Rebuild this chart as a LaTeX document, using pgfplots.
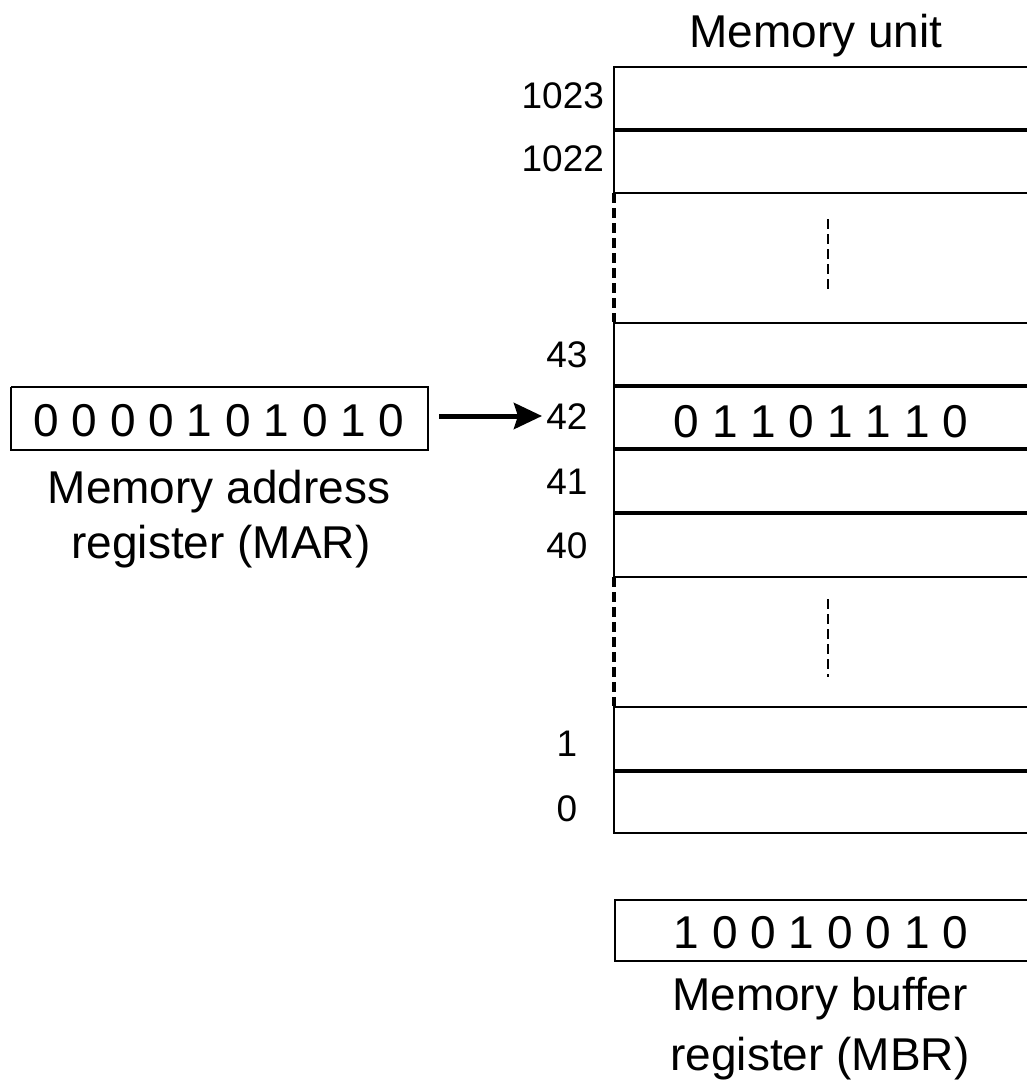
\documentclass[border=0pt]{standalone}
\usepackage{fontspec}
\setmainfont{Liberation Sans}
\usepackage{pgfplots}
\pgfplotsset{compat=1.18}
\usetikzlibrary{arrows.meta}

% picture coordinates are the reference's pixels, y measured downwards
\newcommand{\bigtxt}{\fontsize{23}{27}\selectfont}
\newcommand{\smalltxt}{\fontsize{18.5}{22}\selectfont}

\begin{document}
\begin{tikzpicture}
\begin{axis}[
    width=513.5pt, height=544pt, scale only axis,
    xmin=0, xmax=1027, ymin=0, ymax=1088,
    y dir=reverse,
    hide axis,
    clip=true,
    cell/.style={black, line width=1pt, no marks},
    gapline/.style={black, no marks, dash pattern=on 5pt off 2.5pt},
    every node/.style={inner sep=0pt},
]
% memory cells (top, bottom); right side runs off the picture
\addplot[cell] coordinates {(1027,67) (614,67) (614,129) (1027,129)};   % 1023
\addplot[cell] coordinates {(1027,131) (614,131) (614,193) (1027,193)}; % 1022
\addplot[cell] coordinates {(1027,323) (614,323) (614,385) (1027,385)}; % 43
\addplot[cell] coordinates {(1027,387) (614,387) (614,448) (1027,448)}; % 42
\addplot[cell] coordinates {(1027,450) (614,450) (614,512) (1027,512)}; % 41
\addplot[cell] coordinates {(1027,514) (614,514) (614,577) (1027,577)}; % 40
\addplot[cell] coordinates {(1027,707) (614,707) (614,770) (1027,770)}; % 1
\addplot[cell] coordinates {(1027,772) (614,772) (614,833) (1027,833)}; % 0

% elided ranges
\addplot[gapline, line width=1.8pt] coordinates {(614,193) (614,322)};
\addplot[gapline, line width=1.8pt] coordinates {(614,577) (614,706)};
\addplot[gapline, line width=0.8pt] coordinates {(828,219) (828,291)};
\addplot[gapline, line width=0.8pt] coordinates {(828,599) (828,677)};

% MAR and MBR boxes
\addplot[cell] coordinates {(11,387) (428,387) (428,450) (11,450) (11,387)};
\addplot[cell] coordinates {(1027,900) (615,900) (615,961) (1027,961)};

% address arrow
\addplot[black, no marks, line width=2.5pt, -{Stealth[length=14pt,width=13pt,inset=2pt]}]
    coordinates {(439,416) (542,416)};

% texts
\node[anchor=base] at (axis cs:816,47) {\bigtxt Memory unit};
\node[anchor=base east] at (axis cs:611,108) {\smalltxt 1023};
\node[anchor=base east] at (axis cs:611,171) {\smalltxt 1022};
\node[anchor=base] at (axis cs:567,367) {\smalltxt 43};
\node[anchor=base] at (axis cs:567,429) {\smalltxt 42};
\node[anchor=base] at (axis cs:567,494) {\smalltxt 41};
\node[anchor=base] at (axis cs:567,558) {\smalltxt 40};
\node[anchor=base] at (axis cs:567,756) {\smalltxt 1};
\node[anchor=base] at (axis cs:567,821) {\smalltxt 0};

\node[anchor=base] at (axis cs:219,436) {\bigtxt 0 0 0 0 1 0 1 0 1 0};
\node[anchor=base] at (axis cs:219,503) {\bigtxt Memory address};
\node[anchor=base] at (axis cs:221,558) {\bigtxt register (MAR)};

\node[anchor=base] at (axis cs:821,437) {\bigtxt 0 1 1 0 1 1 1 0};

\node[anchor=base] at (axis cs:821,948) {\bigtxt 1 0 0 1 0 0 1 0};
\node[anchor=base] at (axis cs:820,1010) {\bigtxt Memory buffer};
\node[anchor=base] at (axis cs:820,1070) {\bigtxt register (MBR)};
\end{axis}
\pgfresetboundingbox
\useasboundingbox (current axis.south west) rectangle (current axis.north east);
\end{tikzpicture}
\end{document}
